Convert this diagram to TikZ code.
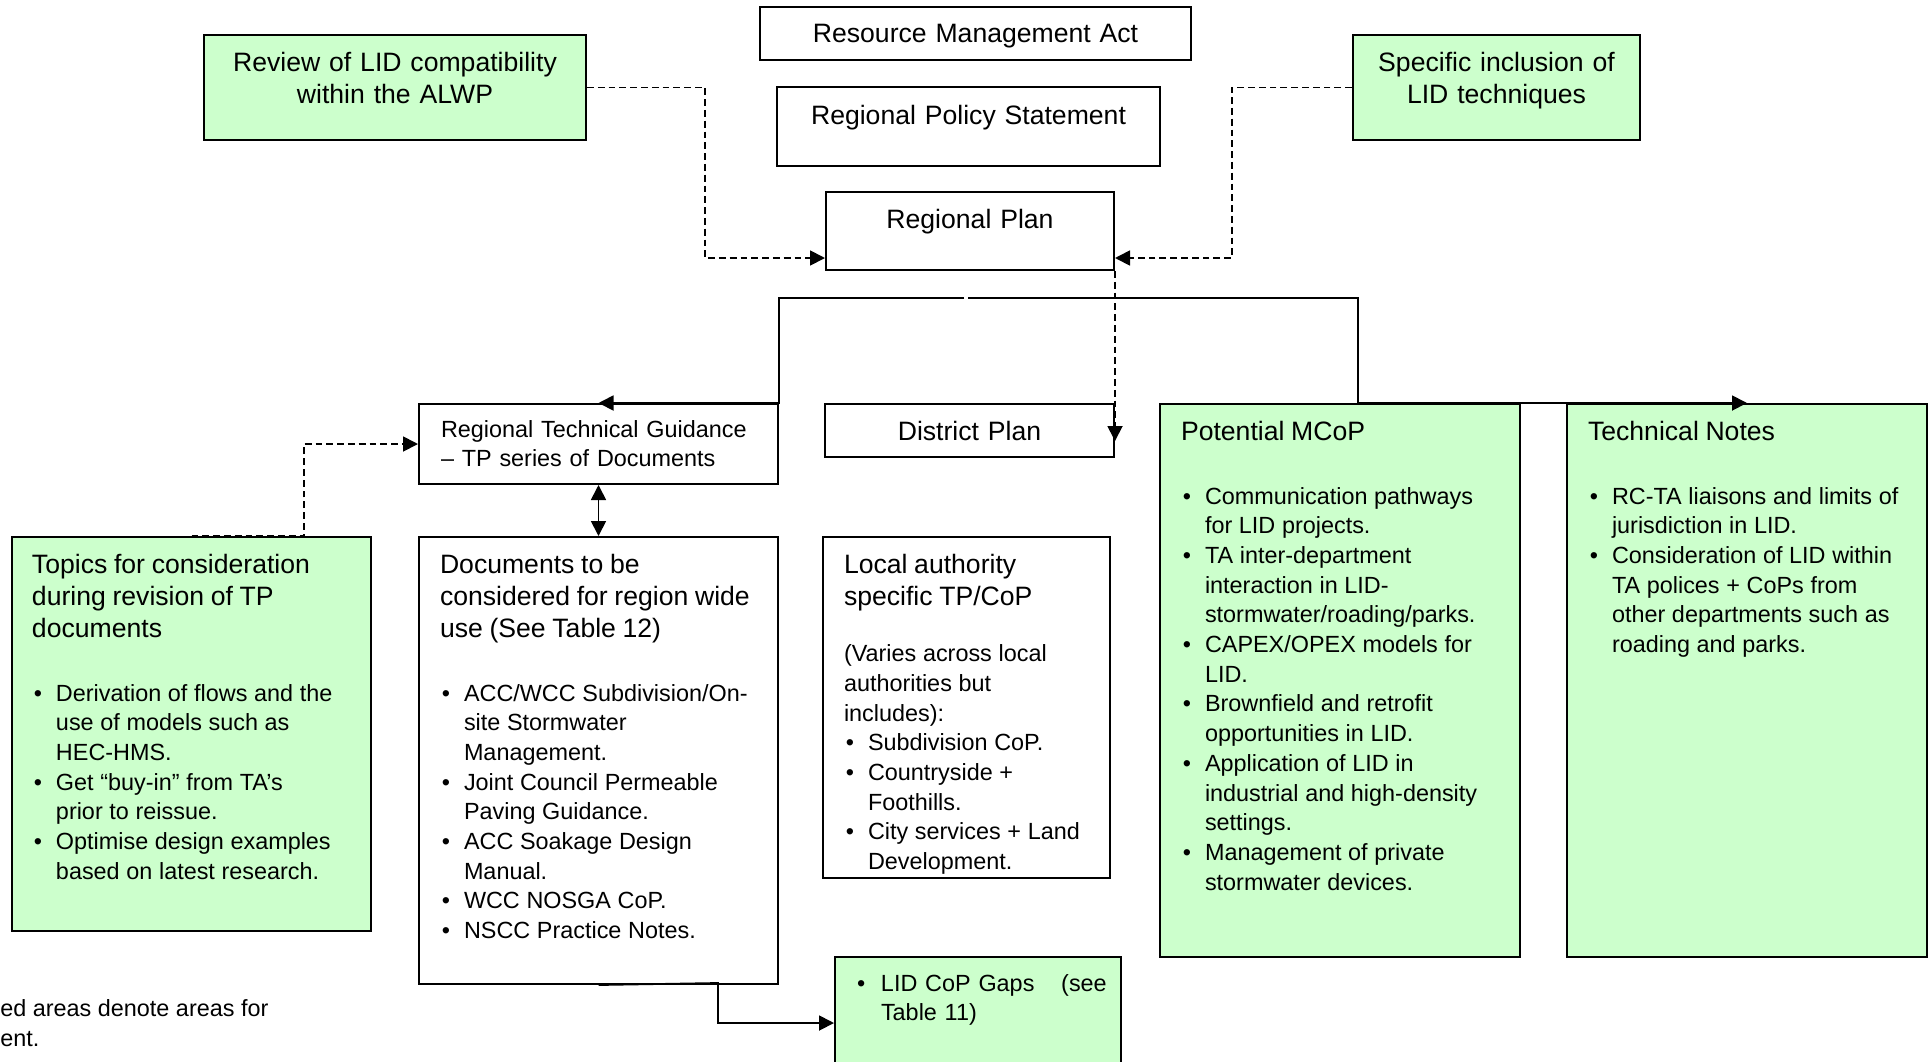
\documentclass[tikz,border=0pt]{standalone}
\usepackage{fontspec}
\setmainfont{Liberation Sans}
\usepackage{enumitem}
\usetikzlibrary{arrows.meta}
\definecolor{lidgreen}{HTML}{CCFFCC}
\setlist[itemize]{label=\textbullet, leftmargin=12pt, labelsep=7pt, topsep=0pt, partopsep=0pt, itemsep=0pt, parsep=0pt}
\newcommand{\headfont}{\fontsize{13.3}{16}\selectfont}
\newcommand{\bodyfont}{\fontsize{11.7}{14.85}\selectfont}
\tikzset{>={Triangle[length=7.5pt,width=7.5pt]}}

\begin{document}
\begin{tikzpicture}[x=0.5pt, y=-0.5pt,
  plainbox/.style={draw, line width=1pt, anchor=north west, inner ysep=0pt, inner xsep=10.5pt, align=left},
  greenbox/.style={plainbox, fill=lidgreen},
  titlebox/.style={plainbox, inner xsep=5pt, align=center, font=\headfont},
  link/.style={line width=0.9pt},
  dashlink/.style={line width=0.9pt, dash pattern=on 3.4pt off 2pt}]
  \useasboundingbox (0,0) rectangle (1932,1061);

  % statutory chain
  \node[titlebox, text width=205.5pt, text height=17.5pt, text depth=9pt] (rma) at (759,6) {Resource Management Act};
  \node[titlebox, text width=181.5pt, text height=18.5pt, text depth=21pt] (rps) at (776,86) {Regional Policy Statement};
  \node[titlebox, text width=134pt, text height=18pt, text depth=21pt] (rplan) at (825,191) {Regional Plan};
  \node[titlebox, fill=lidgreen, text width=181pt, text height=18pt, text depth=34.5pt] (review) at (203,34) {Review of LID compatibility\\ within the ALWP};
  \node[titlebox, fill=lidgreen, text width=133.5pt, text height=18pt, text depth=34.5pt] (specific) at (1352,34) {Specific inclusion of\\ LID techniques};

  % second level
  \node[plainbox, inner xsep=11pt, text width=157.5pt, text height=16.5pt, text depth=23.5pt, font=\bodyfont] (rtg) at (418,403) {Regional Technical Guidance\\ -- TP series of Documents};
  \node[titlebox, text width=134.5pt, text height=18pt, text depth=8.5pt] (district) at (824,403) {District Plan};
  \node[greenbox, text width=159pt, text height=18pt, text depth=258.5pt] (mcop) at (1159,403) {{\headfont Potential MCoP\par}\vspace{17.15pt}\bodyfont
    \begin{itemize}
      \item Communication pathways\\ for LID projects.
      \item TA inter-department\\ interaction in LID-\\ stormwater/roading/parks.
      \item CAPEX/OPEX models for\\ LID.
      \item Brownfield and retrofit\\ opportunities in LID.
      \item Application of LID in\\ industrial and high-density\\ settings.
      \item Management of private\\ stormwater devices.
    \end{itemize}};
  \node[greenbox, text width=159pt, text height=18pt, text depth=258.5pt] (tnotes) at (1566,403) {{\headfont Technical Notes\par}\vspace{17.15pt}\bodyfont
    \begin{itemize}
      \item RC-TA liaisons and limits of\\ jurisdiction in LID.
      \item Consideration of LID within\\ TA polices + CoPs from\\ other departments such as\\ roading and parks.
    \end{itemize}};

  % third level
  \node[greenbox, inner xsep=10pt, text width=159.5pt, text height=18pt, text depth=179pt] (topics) at (11,536) {{\headfont Topics for consideration\\ during revision of TP\\ documents\par}\vspace{17.15pt}\bodyfont
    \begin{itemize}
      \item Derivation of flows and the\\ use of models such as\\ HEC-HMS.
      \item Get “buy-in” from TA’s\\ prior to reissue.
      \item Optimise design examples\\ based on latest research.
    \end{itemize}};
  \node[plainbox, text width=158.5pt, text height=18pt, text depth=205.5pt] (docs) at (418,536) {{\headfont Documents to be\\ considered for region wide\\ use (See Table 12)\par}\vspace{17.15pt}\bodyfont
    \begin{itemize}
      \item ACC/WCC Subdivision/On-\\ site Stormwater\\ Management.
      \item Joint Council Permeable\\ Paving Guidance.
      \item ACC Soakage Design\\ Manual.
      \item WCC NOSGA CoP.
      \item NSCC Practice Notes.
    \end{itemize}};
  \node[plainbox, text width=122.5pt, text height=18pt, text depth=152.5pt] (local) at (822,536) {{\headfont Local authority\\ specific TP/CoP\par}\vspace{13.5pt}\bodyfont
    (Varies across local\\ authorities but\\ includes):
    \begin{itemize}
      \item Subdivision CoP.
      \item Countryside +\\ Foothills.
      \item City services + Land\\ Development.
    \end{itemize}};
  \node[greenbox, inner xsep=6.5pt, text width=130pt, text height=17pt, text depth=49pt, font=\bodyfont] (gaps) at (834,956) {%
    \makebox[16.5pt][l]{\hspace{4.5pt}\textbullet}LID CoP Gaps\hspace{9.5pt} (see\\ \hspace*{16.5pt}Table 11)};

  \node[anchor=north west, inner sep=0pt, align=left, font=\bodyfont] (note) at (0,999) {ed areas denote areas for\\ ent.};

  % dashed links
  \draw[dashlink,->] (review.east) -| (705,258) -- (rplan.west |- 705,258);
  \draw[dashlink,->] (specific.west) -| (1232,258) -- (rplan.east |- 1232,258);
  \draw[dashlink,->] (rplan.south east) -- (district.east |- 0,441);
  \draw[dashlink,->] (topics.north) -- (304,536) |- (rtg.west);

  % solid links
  \coordinate (split) at (966,298);
  \draw[link,->] ([xshift=-1pt]split) -| (rtg.north east) -- (rtg.north);
  \draw[link,->] ([xshift=1pt]split) -| (1358,403) -- (tnotes.north);
  \draw[link,<->] (rtg.south) -- (docs.north);
  \draw[link,->] (docs.south) -- (718,983) |- (gaps.west);
\end{tikzpicture}
\end{document}
